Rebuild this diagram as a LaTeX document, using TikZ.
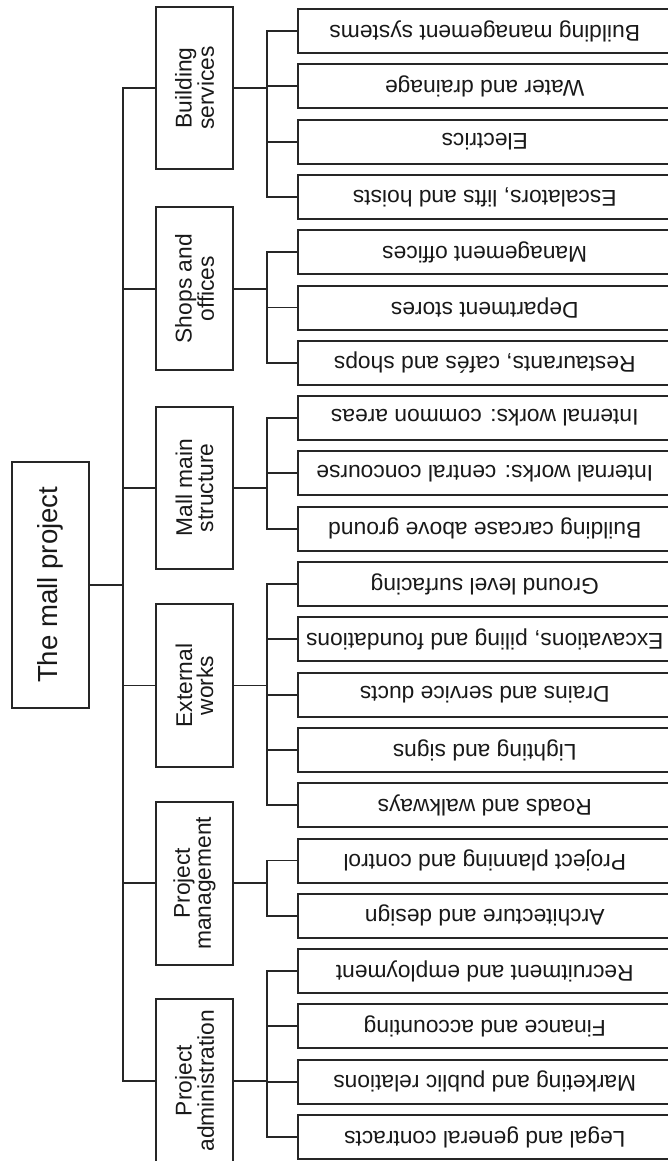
\documentclass[tikz,border=0pt]{standalone}
\usepackage{fontspec}
\setmainfont{Liberation Sans}
\begin{document}
\begin{tikzpicture}[x=1pt,y=-1pt,
  box/.style={draw=black!85, line width=2pt, inner sep=0pt, text=black!90},
  rootbox/.style={box, rotate=90, minimum width=246pt, minimum height=77pt,
    font=\fontsize{27.6}{30}\selectfont},
  groupbox/.style={box, rotate=90, minimum width=162.5pt, minimum height=77.6pt,
    align=center, font=\fontsize{22.8}{21}\selectfont},
  leafbox/.style={box, rotate=180, minimum width=374.5pt, minimum height=44pt,
    font=\fontsize{22.8}{26}\selectfont},
  conn/.style={draw=black!85, line width=1.9pt, line cap=rect}]
\useasboundingbox (0,0) rectangle (668,1161);
\clip (0,0) rectangle (668,1161);

% root
\node[rootbox] (root) at (50.8,584.7) {The mall project};

% second level
\node[groupbox] (bs) at (194.5,88.0)   {Building\\services};
\node[groupbox] (so) at (194.5,288.7)  {Shops and\\offices};
\node[groupbox] (mm) at (194.5,487.8)  {Mall main\\structure};
\node[groupbox] (ew) at (194.5,685.5)  {External\\works};
\node[groupbox] (pm) at (194.5,883.3)  {Project\\management};
\node[groupbox] (pa) at (194.5,1080.6) {Project\\administration};

% work packages
\foreach \t [count=\i from 0] in {
  {Building management systems},
  {Water and drainage},
  {Electrics},
  {Escalators, lifts and hoists},
  {Management offices},
  {Department stores},
  {Restaurants, cafés and shops},
  {Internal works: common areas},
  {Internal works: central concourse},
  {Building carcase above ground},
  {Ground level surfacing},
  {Excavations, piling and foundations},
  {Drains and service ducts},
  {Lighting and signs},
  {Roads and walkways},
  {Project planning and control},
  {Architecture and design},
  {Recruitment and employment},
  {Finance and accounting},
  {Marketing and public relations},
  {Legal and general contracts}}
  \node[leafbox] (leaf\i) at (484.75,31+55.3*\i) {\t};

% trunk from the root to the second level
\coordinate (trunk) at (123.3,0);
\draw[conn] (root.south) -- (root.south -| trunk);
\draw[conn] (bs.north -| trunk) -- (pa.north -| trunk);
\foreach \g in {bs,so,mm,ew,pm,pa}
  \draw[conn] (\g.north -| trunk) -- (\g.north);

% buses from each group to its work packages
\coordinate (bus) at (266.7,0);
\foreach \g/\a/\b in {bs/0/3, so/4/6, mm/7/9, ew/10/14, pm/15/16, pa/17/20} {
  \draw[conn] (\g.south) -- (\g.south -| bus);
  \draw[conn] (leaf\a.east -| bus) -- (leaf\b.east -| bus);
  \foreach \k in {\a,...,\b}
    \draw[conn] (leaf\k.east -| bus) -- (leaf\k.east);
}
\end{tikzpicture}
\end{document}
